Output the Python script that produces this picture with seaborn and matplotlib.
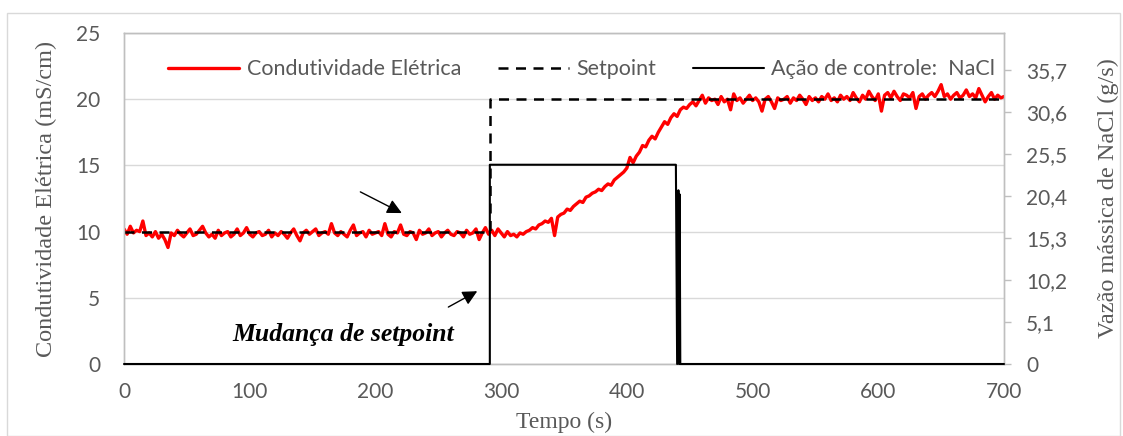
import numpy as np
import pandas as pd
import matplotlib
matplotlib.use("Agg")
import matplotlib.pyplot as plt
import seaborn as sns
from matplotlib.patches import Rectangle

# ---------------- data ----------------
sample_step = 2.5  # s between conductivity samples (rows of 10 = 25 s)
cond_values = [
    10.2, 9.8, 10.4, 9.9, 10.1, 10.0, 10.8, 9.7, 9.9, 9.6,     # 0
    10.0, 9.5, 9.8, 9.4, 8.8, 9.9, 9.7, 10.1, 9.8, 9.6,        # 25
    9.9, 10.2, 9.7, 9.8, 10.1, 10.4, 9.9, 9.6, 9.8, 9.5,       # 50
    10.1, 9.7, 9.9, 10.0, 9.6, 9.8, 10.2, 9.7, 9.9, 10.3,      # 75
    9.8, 9.6, 9.9, 10.0, 9.7, 9.8, 10.1, 9.6, 9.9, 9.7,        # 100
    10.0, 9.8, 9.5, 9.9, 10.2, 9.7, 9.3, 9.9, 10.1, 9.8,       # 125
    10.0, 10.2, 9.7, 9.9, 10.0, 9.8, 10.6, 9.9, 9.7, 10.0,     # 150
    9.8, 9.6, 10.1, 10.5, 9.7, 9.9, 10.0, 9.6, 10.1, 9.8,      # 175
    9.9, 10.0, 9.7, 10.6, 9.8, 9.6, 10.0, 9.9, 10.5, 9.8,      # 200
    9.7, 10.0, 9.9, 9.4, 10.1, 9.8, 9.9, 10.2, 9.7, 9.9,       # 225
    10.0, 9.6, 9.9, 10.1, 9.8, 9.7, 10.0, 9.9, 9.6, 10.1,      # 250
    9.8, 9.9, 10.2, 9.4, 9.9, 10.3, 9.8, 10.1, 9.7, 10.2,      # 275
    9.9, 9.6, 10.0, 9.7, 9.8, 9.6, 9.9, 9.8, 10.0, 10.1,       # 300
    10.3, 10.2, 10.5, 10.6, 10.8, 10.7, 11.0, 9.7, 11.1, 11.3,  # 325
    11.4, 11.7, 11.6, 11.9, 12.1, 12.3, 12.2, 12.6, 12.7, 12.9,  # 350
    13.0, 13.2, 13.1, 13.4, 13.6, 13.5, 13.9, 14.1, 14.3, 14.5,  # 375
    14.8, 15.6, 15.2, 15.7, 16.0, 16.5, 16.4, 16.9, 17.2, 17.0,  # 400
    17.5, 17.9, 18.3, 18.1, 18.6, 18.9, 18.7, 19.2, 19.4, 19.3,  # 425
    19.6, 19.8, 19.5, 19.9, 20.3, 19.7, 20.1, 19.9, 20.0, 19.6,  # 450
    20.2, 19.8, 20.0, 19.2, 20.4, 19.9, 20.1, 19.7, 20.0, 20.3,  # 475
    19.9, 20.1, 19.8, 19.1, 20.0, 20.2, 19.8, 19.3, 20.1, 19.9,  # 500
    20.0, 20.2, 19.7, 20.1, 19.9, 20.3, 20.0, 19.6, 20.2, 19.9,  # 525
    20.1, 19.8, 20.2, 20.0, 20.4, 19.9, 20.1, 19.8, 20.3, 20.0,  # 550
    20.2, 19.9, 20.5, 20.1, 19.8, 20.3, 20.0, 20.6, 20.2, 19.9,  # 575
    20.4, 19.1, 20.3, 20.5, 20.1, 20.6, 20.2, 19.9, 20.4, 20.3,  # 600
    20.1, 20.5, 19.3, 20.2, 20.4, 20.0, 20.3, 20.5, 20.2, 20.6,  # 625
    21.1, 20.2, 20.4, 20.0, 20.3, 20.5, 20.1, 20.3, 20.7, 20.2,  # 650
    20.4, 20.1, 20.8, 20.3, 19.8, 20.2, 20.5, 20.0, 20.3, 20.1,  # 675
    20.2,                                                       # 700
]
cond_time = np.arange(len(cond_values)) * sample_step

setpoint_time = [0, 291, 291, 700]
setpoint_values = [10, 10, 20, 20]

control_time = [0, 291, 291, 439, 440, 441, 441.5, 442, 442.5, 700]
control_values = [0, 0, 24.2, 24.2, 0, 21.1, 0, 20.6, 0, 0]

x_ticks = [0, 100, 200, 300, 400, 500, 600, 700]
left_ticks = [0, 5, 10, 15, 20, 25]
right_ticks = [0, 5.1, 10.2, 15.3, 20.4, 25.5, 30.6, 35.7]
right_tick_labels = ["0", "5,1", "10,2", "15,3", "20,4", "25,5", "30,6", "35,7"]

label_cond = "Condutividade Elétrica"
label_sp = "Setpoint"
label_ctrl = "Ação de controle:  NaCl"

# ---------------- styling ----------------
sns.set_theme(style="white")
plt.rcParams["font.family"] = ["Lato", "DejaVu Sans"]

GRAY_TXT = "#595959"
GRAY_LINE = "#BFBFBF"
GRID = "#D9D9D9"
SERIF = ["Liberation Serif", "DejaVu Serif"]

W, H = 1123, 436
fig = plt.figure(figsize=(W / 100, H / 100), dpi=100)
ax = fig.add_axes([124 / W, 1 - 364 / H, 880 / W, 331 / H])
ax2 = ax.twinx()

df_cond = pd.DataFrame({"t": cond_time, "v": cond_values})
df_sp = pd.DataFrame({"t": setpoint_time, "v": setpoint_values})
df_ctrl = pd.DataFrame({"t": control_time, "v": control_values})

sns.lineplot(data=df_cond, x="t", y="v", ax=ax, color="#FF0000", lw=2.4,
             label=label_cond, estimator=None, sort=False, zorder=3)
sns.lineplot(data=df_sp, x="t", y="v", ax=ax, color="black", lw=1.8,
             linestyle=(0, (4, 3)), label=label_sp, estimator=None, sort=False, zorder=4)
sns.lineplot(data=df_ctrl, x="t", y="v", ax=ax2, color="black", lw=1.5,
             label=label_ctrl, estimator=None, sort=False, zorder=3)
for ln in ax2.lines:
    ln.set_clip_on(False)

ax.set_xlim(0, 700)
ax.set_ylim(0, 25)
ax2.set_ylim(0, 40.2)

ax.set_xticks(x_ticks)
ax.set_yticks(left_ticks)
ax2.set_yticks(right_ticks)
ax2.set_yticklabels(right_tick_labels)

ax.grid(True, axis="y", color=GRID, lw=1)
ax.grid(False, axis="x")
ax2.grid(False)

for a in (ax, ax2):
    for s in a.spines.values():
        s.set_color(GRAY_LINE)
        s.set_linewidth(1)

ax.tick_params(axis="x", length=0, pad=13, labelsize=15, labelcolor=GRAY_TXT)
ax.tick_params(axis="y", length=0, pad=17, labelsize=15, labelcolor=GRAY_TXT)
ax2.tick_params(axis="y", direction="out", length=5, width=1, color=GRAY_LINE,
                pad=11, labelsize=15, labelcolor=GRAY_TXT)

ax.set_xlabel("Tempo (s)", family=SERIF, fontsize=17, color=GRAY_TXT, labelpad=7)
ax.set_ylabel("Condutividade Elétrica (mS/cm)", family=SERIF, fontsize=17.5,
              color=GRAY_TXT, labelpad=14)
ax2.set_ylabel("Vazão mássica de NaCl (g/s)", family=SERIF, fontsize=17.5,
               color=GRAY_TXT, labelpad=22)

# legend
h1, l1 = ax.get_legend_handles_labels()
h2, l2 = ax2.get_legend_handles_labels()
if ax.get_legend() is not None:
    ax.get_legend().remove()
ax2.legend(h1 + h2, l1 + l2, ncol=3, loc="center", bbox_to_anchor=(0.52, 0.891),
           frameon=False, fontsize=15.5, labelcolor=GRAY_TXT, handlelength=3.3,
           handletextpad=0.35, columnspacing=1.7)

# annotations
arrow_kw = dict(arrowstyle="-|>", color="black", lw=1.0, mutation_scale=22,
                shrinkA=0, shrinkB=0)
ax.annotate("", xy=(221, 11.4), xytext=(188, 13.0), arrowprops=arrow_kw, zorder=6)
ax.annotate("", xy=(281, 5.5), xytext=(258, 4.3), arrowprops=arrow_kw, zorder=6)
ax.text(174, 2.2, "Mudança de setpoint", family=SERIF, fontsize=18.5,
        fontweight="bold", fontstyle="italic", color="black",
        ha="center", va="center", zorder=6)

# outer chart border
fig.patches.append(Rectangle((7 / W, 0), (1120 - 7) / W, 1 - 13 / H,
                             transform=fig.transFigure, fill=False,
                             edgecolor=GRID, lw=1, zorder=0))

fig.savefig("out.png", dpi=100)
